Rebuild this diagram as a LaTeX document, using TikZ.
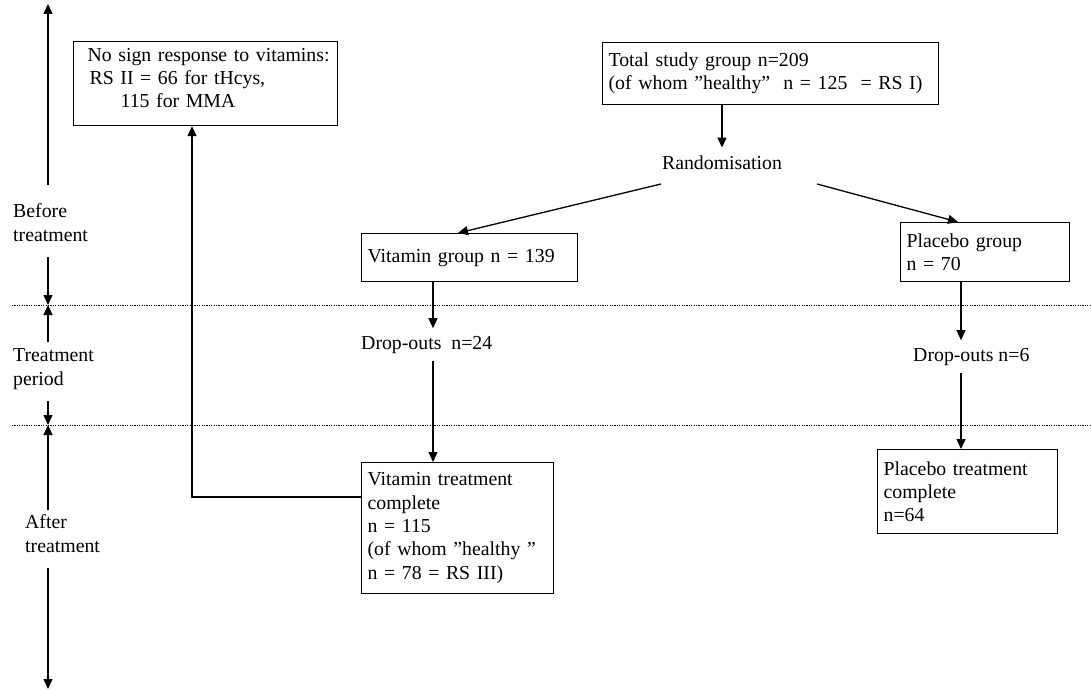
\documentclass[tikz,border=0pt]{standalone}
\usepackage{fontspec}
\setmainfont{Liberation Serif}
\usetikzlibrary{arrows.meta,calc}
\begin{document}
\begin{tikzpicture}[x=1pt,y=-1pt,
  font=\fontsize{19.8}{23.3}\selectfont,
  box/.style={draw, line width=1.2pt, anchor=north west, align=left, inner xsep=6pt, inner ysep=0pt},
  arr/.style={line width=1.3pt, -{Triangle[length=10pt,width=9pt]}},
  lbl/.style={inner sep=0pt, anchor=base west, align=left},
  sepline/.style={line width=0.7pt, dash pattern=on 1.2pt off 1.2pt}]
\useasboundingbox (0,0) rectangle (1091,690);

% boxes
\node[box, text width=252pt, minimum height=84pt] (nosign) at (73,41)
  {\hspace*{8pt}No sign response to vitamins:\\\hspace*{10pt}RS II = 66 for tHcys,\\\hspace*{41pt}115 for MMA\rule[-11pt]{0pt}{0pt}};
\node[box, text width=324pt, minimum height=62pt] (total) at (602,42)
  {Total study group n=209\\(of whom ”healthy”\ \ n = 125\ \ = RS I)};
\node[box, text width=204pt, minimum height=48pt] (vitgrp) at (361,233)
  {Vitamin group n = 139};
\node[box, text width=157pt, minimum height=59pt] (plcgrp) at (900,222)
  {Placebo group\\n = 70};
\node[box, text width=180pt, minimum height=131pt] (vittrt) at (361,462)
  {Vitamin treatment\\complete\\n = 115\\(of whom ”healthy ”\\n = 78 = RS III)};
\node[box, text width=168pt, minimum height=84pt] (plctrt) at (877,449)
  {Placebo treatment\\complete\\n=64};

% plain texts
\node[inner xsep=0pt, inner ysep=7.5pt, anchor=base] (rand) at (722,169) {Randomisation};
\node[lbl, inner ysep=7.5pt] (drop1) at (361,349) {Drop-outs\ \ n=24};
\node[lbl, inner ysep=7.5pt] (drop2) at (913,361) {Drop-outs n=6};
\node[lbl] (before) at (13,241) {Before\\treatment};
\node[lbl] (tperiod) at (13,385) {Treatment\\period};
\node[lbl] (after) at (25,552) {After\\treatment};

% helper coordinates
\coordinate (cv) at (433,0);
\coordinate (cp) at (961,0);
\coordinate (randL) at (661,184);
\coordinate (randR) at (817,184);
\coordinate (ttop) at (48,4);
\coordinate (t1) at (48,185);
\coordinate (t2) at (48,257);
\coordinate (tsep1) at (48,305);
\coordinate (t3) at (48,342);
\coordinate (t4) at (48,401);
\coordinate (tsep2) at (48,425);
\coordinate (t5) at (48,510);
\coordinate (t6) at (48,568);
\coordinate (tbot) at (48,689);
\coordinate (d1a) at (12,305);
\coordinate (d1b) at (1091,305);
\coordinate (d2a) at (12,425);
\coordinate (d2b) at (1091,425);

% separators
\draw[sepline] (d1a) -- (d1b);
\draw[sepline] (d2a) -- (d2b);

% timeline
\draw[arr] (t1) -- (ttop);
\draw[arr] (t2) -- (tsep1);
\draw[arr] (t3) -- (tsep1);
\draw[arr] (t4) -- (tsep2);
\draw[arr] (t5) -- (tsep2);
\draw[arr] (t6) -- (tbot);

% flow
\draw[arr] (total.south -| rand.north) -- (rand.north);
\draw[arr] (randL) -- ($(vitgrp.north west)+(97,0)$);
\draw[arr] (randR) -- ($(plcgrp.north west)+(58,0)$);
\draw[arr] (vitgrp.south -| cv) -- (drop1.north -| cv);
\draw[arr] (drop1.south -| cv) -- (vittrt.north -| cv);
\draw[arr] (plcgrp.south -| cp) -- (drop2.north -| cp);
\draw[arr] (drop2.south -| cp) -- (plctrt.north -| cp);
\draw[arr] ($(vittrt.north west)+(0,35)$) -| ($(nosign.south west)+(119,0)$);
\end{tikzpicture}
\end{document}
